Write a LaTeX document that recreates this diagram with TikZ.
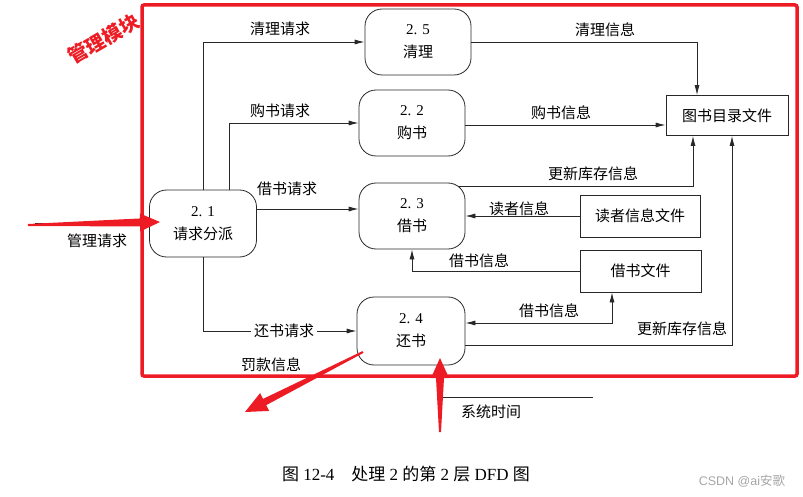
\documentclass[tikz,border=0pt]{standalone}
\usepackage{fontspec}
\setmainfont{Liberation Serif}
\newfontfamily\cjk{Noto Sans CJK SC}
\newfontfamily\wmfont{Liberation Sans}
\usetikzlibrary{arrows.meta,calc}
\definecolor{mkred}{RGB}{237,28,36}
\definecolor{ln}{RGB}{40,40,40}
\newcommand\mkarrow[6]{%
  \path ($(#2)!#5!(#1)$) coordinate (hb);
  \fill[mkred] ($(#1)!#3!90:(#2)$) -- ($(hb)!#4!90:(#2)$) -- ($(hb)!#6!90:(#2)$) -- (#2)
    -- ($(hb)!#6!-90:(#2)$) -- ($(hb)!#4!-90:(#2)$) -- ($(#1)!#3!-90:(#2)$) -- cycle;}
\begin{document}
\begin{tikzpicture}[x=1pt,y=-1pt,
  proc/.style={draw=ln, line width=0.8pt, rounded corners=17pt, minimum width=106pt,
    minimum height=66pt, align=center, font=\cjk\fontsize{15}{23}\selectfont, inner sep=0pt},
  store/.style={draw=ln, line width=0.8pt, minimum width=120pt, minimum height=41pt,
    font=\cjk\fontsize{15}{18}\selectfont, inner sep=0pt},
  flow/.style={draw=ln, line width=0.8pt, -{Latex[length=10pt,width=5pt]}},
  biflow/.style={draw=ln, line width=0.8pt, {Latex[length=10pt,width=5pt]}-{Latex[length=10pt,width=5pt]}},
  lbl/.style={font=\cjk\fontsize{15}{18}\selectfont, inner sep=1pt}]
\useasboundingbox (0,0) rectangle (803,497);

% processes
\node[proc, minimum width=107pt, minimum height=67pt] (n21) at (203,223.5) {{\rmfamily 2. 1}\\请求分派};
\node[proc] (n25) at (418,42) {{\rmfamily 2. 5}\\清理};
\node[proc] (n22) at (412,123) {{\rmfamily 2. 2}\\购书};
\node[proc] (n23) at (412,216) {{\rmfamily 2. 3}\\借书};
\node[proc, minimum width=108pt, minimum height=68pt] (n24) at (411,331) {{\rmfamily 2. 4}\\还书};

% stores
\node[store, minimum width=122pt, minimum height=40pt] (f1) at (727,115.5) {图书目录文件};
\node[store, minimum height=42pt] (f2) at (640,216) {读者信息文件};
\node[store, minimum width=121pt, minimum height=42pt] (f3) at (640.5,271) {借书文件};

% flows
\coordinate (inL) at ($(n21.west)+(-114,0)$);
\draw[flow] (inL) -- (n21.west);
\node[lbl] (lin) at (97,241) {管理请求};

\draw[flow] (n21.north) |- (n25.west);
\node[lbl] (l1) at (280,29) {清理请求};
\draw[flow] ([xshift=26pt]n21.north) |- (n22.west);
\node[lbl] (l2) at (280,111) {购书请求};
\draw[flow] (n21.east |- 0,209) -- (n23.west |- 0,209);
\node[lbl] (l3) at (287,189) {借书请求};
\draw[flow] (n21.south) |- (n24.west);
\node[lbl, fill=white, inner sep=3pt] (l4) at (284,331) {还书请求};

\draw[flow] (n25.east) -| ([xshift=-30pt]f1.north);
\node[lbl] (l5) at (605,30) {清理信息};
\draw[flow] (n22.east |- 0,125) -- (f1.west |- 0,125);
\node[lbl] (l6) at (561,113) {购书信息};
\draw[flow] ([xshift=-7pt,yshift=-4pt]n23.north east) -| ([xshift=-34pt]f1.south);
\node[lbl] (l7) at (593,174) {更新库存信息};
\draw[flow] (f2.west) -- (n23.east);
\node[lbl] (l8) at (519,209) {读者信息};
\draw[flow] (f3.west) -| (n23.south);
\node[lbl] (l9) at (479,261) {借书信息};
\draw[biflow] (n24.east |- 0,323) -| ([xshift=-28.5pt]f3.south);
\node[lbl] (l10) at (549,311) {借书信息};
\draw[flow] (n24.east |- 0,345) -| ([xshift=5pt]f1.south);
\node[lbl] (l11) at (682,329) {更新库存信息};

\node[lbl] (l12) at (271,365) {罚款信息};
\coordinate (st) at (593,397);
\draw[flow] (st) -| ([xshift=26pt]n24.south);
\node[lbl] (l13) at (491,412) {系统时间};

% caption and watermark
\node[font=\fontsize{17}{20}\selectfont] (cap) at (406,474)
  {{\cjk 图} 12-4\quad{\cjk 处理} 2 {\cjk 的第} 2 {\cjk 层} DFD {\cjk 图}};
\node[text=black!35, font=\wmfont\fontsize{12.5}{14}\selectfont] (wm) at (742,481) {CSDN @ai{\cjk 安歌}};

% red annotations
\draw[mkred, line width=3.5pt, rounded corners=2pt] (142,5) rectangle (797,376);
\node[text=mkred, font=\cjk\bfseries\fontsize{19.5}{20}\selectfont, rotate=30, inner sep=0pt] (mk) at (104,39) {管理模块};
\coordinate (a1t) at (28,225);  \coordinate (a1h) at (160,222);
\coordinate (a2t) at (363,352); \coordinate (a2h) at (245,412);
\coordinate (a3t) at (440,432); \coordinate (a3h) at (440,358);
\mkarrow{a1t}{a1h}{1pt}{4pt}{20pt}{9pt}
\mkarrow{a2t}{a2h}{1pt}{3.5pt}{22pt}{10pt}
\mkarrow{a3t}{a3h}{1pt}{4pt}{20pt}{9pt}
\end{tikzpicture}
\end{document}
